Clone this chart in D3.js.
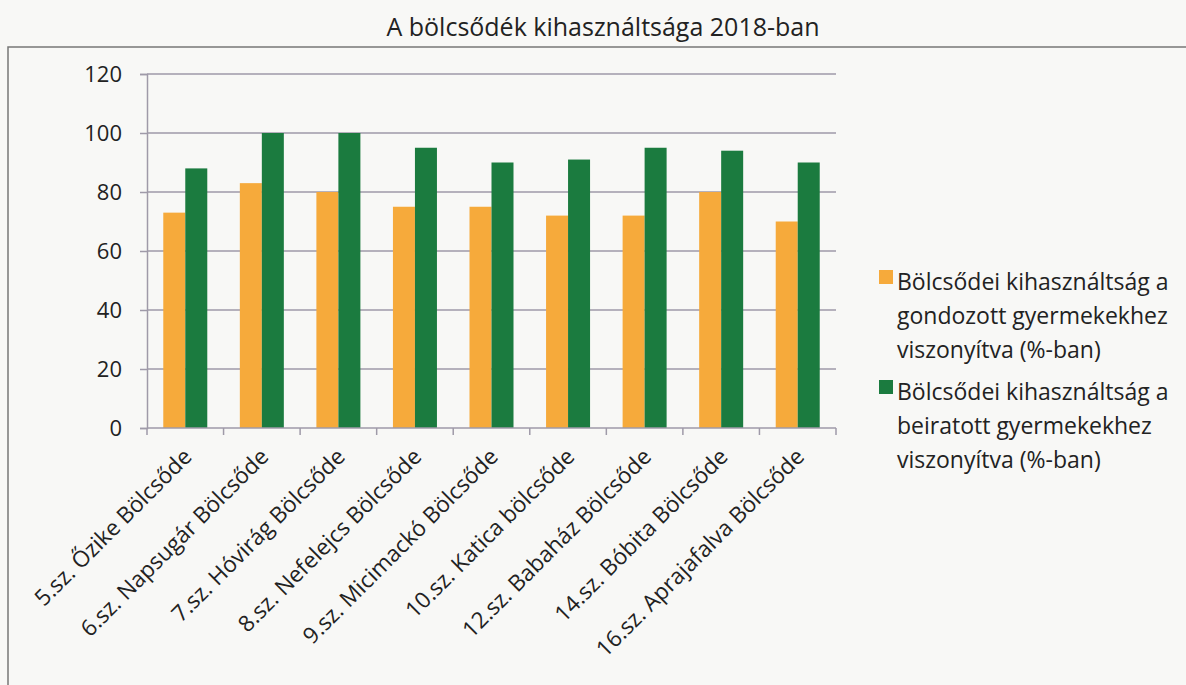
<!DOCTYPE html>
<html>
<head>
<meta charset="utf-8">
<script src="https://cdn.jsdelivr.net/npm/d3@7"></script>
<style>
  body { margin: 0; background: #f8f8f6; }
  svg { display: block; font-family: "Open Sans", "Noto Sans", sans-serif; }
</style>
</head>
<body>
<script>
const width = 1186;
const height = 685;
const margin = { top: 74, right: 350, bottom: 257, left: 147 };
const innerWidth = width - margin.left - margin.right;
const innerHeight = height - margin.top - margin.bottom;

const chartTitle = "A bölcsődék kihasználtsága 2018-ban";

const categories = [
  "5.sz. Őzike Bölcsőde",
  "6.sz. Napsugár Bölcsőde",
  "7.sz. Hóvirág Bölcsőde",
  "8.sz. Nefelejcs Bölcsőde",
  "9.sz. Micimackó Bölcsőde",
  "10.sz. Katica bölcsőde",
  "12.sz. Babaház Bölcsőde",
  "14.sz. Bóbita Bölcsőde",
  "16.sz. Aprajafalva Bölcsőde"
];
const seriesNames = [
  ["Bölcsődei kihasználtság a", "gondozott gyermekekhez", "viszonyítva (%-ban)"],
  ["Bölcsődei kihasználtság a", "beiratott gyermekekhez", "viszonyítva (%-ban)"]
];
const gondozott = [73, 83, 80, 75, 75, 72, 72, 80, 70];
const beiratott = [88, 100, 100, 95, 90, 91, 95, 94, 90];
const yTicks = [0, 20, 40, 60, 80, 100, 120];

const colors = ["#f6aa3b", "#1b7b3f"];
const gridColor = "#9f9aa8";
const textColor = "#222";

const svg = d3.select("body").append("svg")
  .attr("width", width)
  .attr("height", height);

// chart frame (top and left edges visible in the scan)
svg.append("path")
  .attr("d", "M8,685 V47 H1186")
  .attr("fill", "none")
  .attr("stroke", "#777")
  .attr("stroke-width", 1.5);

svg.append("text")
  .attr("x", 603)
  .attr("y", 36)
  .attr("text-anchor", "middle")
  .attr("font-size", 25)
  .attr("fill", textColor)
  .text(chartTitle);

const g = svg.append("g").attr("transform", `translate(${margin.left},${margin.top})`);

const xScale = d3.scaleBand().domain(categories).range([0, innerWidth]).paddingInner(0).paddingOuter(0);
const xInner = d3.scaleBand().domain([0, 1]).range([0, 44]);
const yScale = d3.scaleLinear().domain([0, 120]).range([innerHeight, 0]);

// gridlines
g.append("g")
  .selectAll("line")
  .data(yTicks.filter(d => d > 0))
  .join("line")
  .attr("x1", 0)
  .attr("x2", innerWidth)
  .attr("y1", d => yScale(d))
  .attr("y2", d => yScale(d))
  .attr("stroke", gridColor)
  .attr("stroke-width", 1.5);

// bars
const data = categories.map((c, i) => ({ cat: c, vals: [gondozott[i], beiratott[i]] }));
const groups = g.append("g").selectAll("g")
  .data(data)
  .join("g")
  .attr("transform", d => `translate(${xScale(d.cat) + xScale.bandwidth() / 2 - 22},0)`);

groups.selectAll("rect")
  .data(d => d.vals)
  .join("rect")
  .attr("x", (d, i) => xInner(i))
  .attr("width", xInner.bandwidth())
  .attr("y", d => yScale(d))
  .attr("height", d => innerHeight - yScale(d))
  .attr("fill", (d, i) => colors[i]);

// y axis
const yAxis = g.append("g")
  .call(d3.axisLeft(yScale).tickValues(yTicks).tickSize(7).tickPadding(18));
yAxis.selectAll("text").attr("font-size", 22).attr("fill", textColor).style("font-family", "'Open Sans', 'Noto Sans', sans-serif");
yAxis.selectAll("line").attr("stroke", gridColor).attr("stroke-width", 1.5);
yAxis.select(".domain").attr("stroke", gridColor).attr("stroke-width", 1.5);

// x axis with ticks at category boundaries
const xAxis = g.append("g").attr("transform", `translate(0,${innerHeight})`);
xAxis.append("line")
  .attr("x1", 0).attr("x2", innerWidth)
  .attr("stroke", gridColor).attr("stroke-width", 1.5);
xAxis.selectAll("line.tick")
  .data(d3.range(categories.length + 1))
  .join("line")
  .attr("class", "tick")
  .attr("x1", i => i * xScale.step())
  .attr("x2", i => i * xScale.step())
  .attr("y1", 0).attr("y2", 7)
  .attr("stroke", gridColor).attr("stroke-width", 1.5);

xAxis.selectAll("text")
  .data(categories)
  .join("text")
  .attr("text-anchor", "end")
  .attr("font-size", 22.5)
  .attr("fill", textColor)
  .attr("transform", d => `translate(${xScale(d) + xScale.bandwidth() / 2 + 8},${30}) rotate(-45)`)
  .text(d => d);

// legend
const legend = svg.append("g").attr("transform", "translate(876,283)");
seriesNames.forEach((lines, i) => {
  const lg = legend.append("g").attr("transform", `translate(0,${i * 110})`);
  lg.append("rect")
    .attr("x", 3).attr("y", -13)
    .attr("width", 14).attr("height", 14)
    .attr("fill", colors[i]);
  lg.selectAll("text")
    .data(lines)
    .join("text")
    .attr("x", 21)
    .attr("y", (d, j) => j * 34 + 7)
    .attr("font-size", 23)
    .attr("fill", textColor)
    .text(d => d);
});
</script>
</body>
</html>
